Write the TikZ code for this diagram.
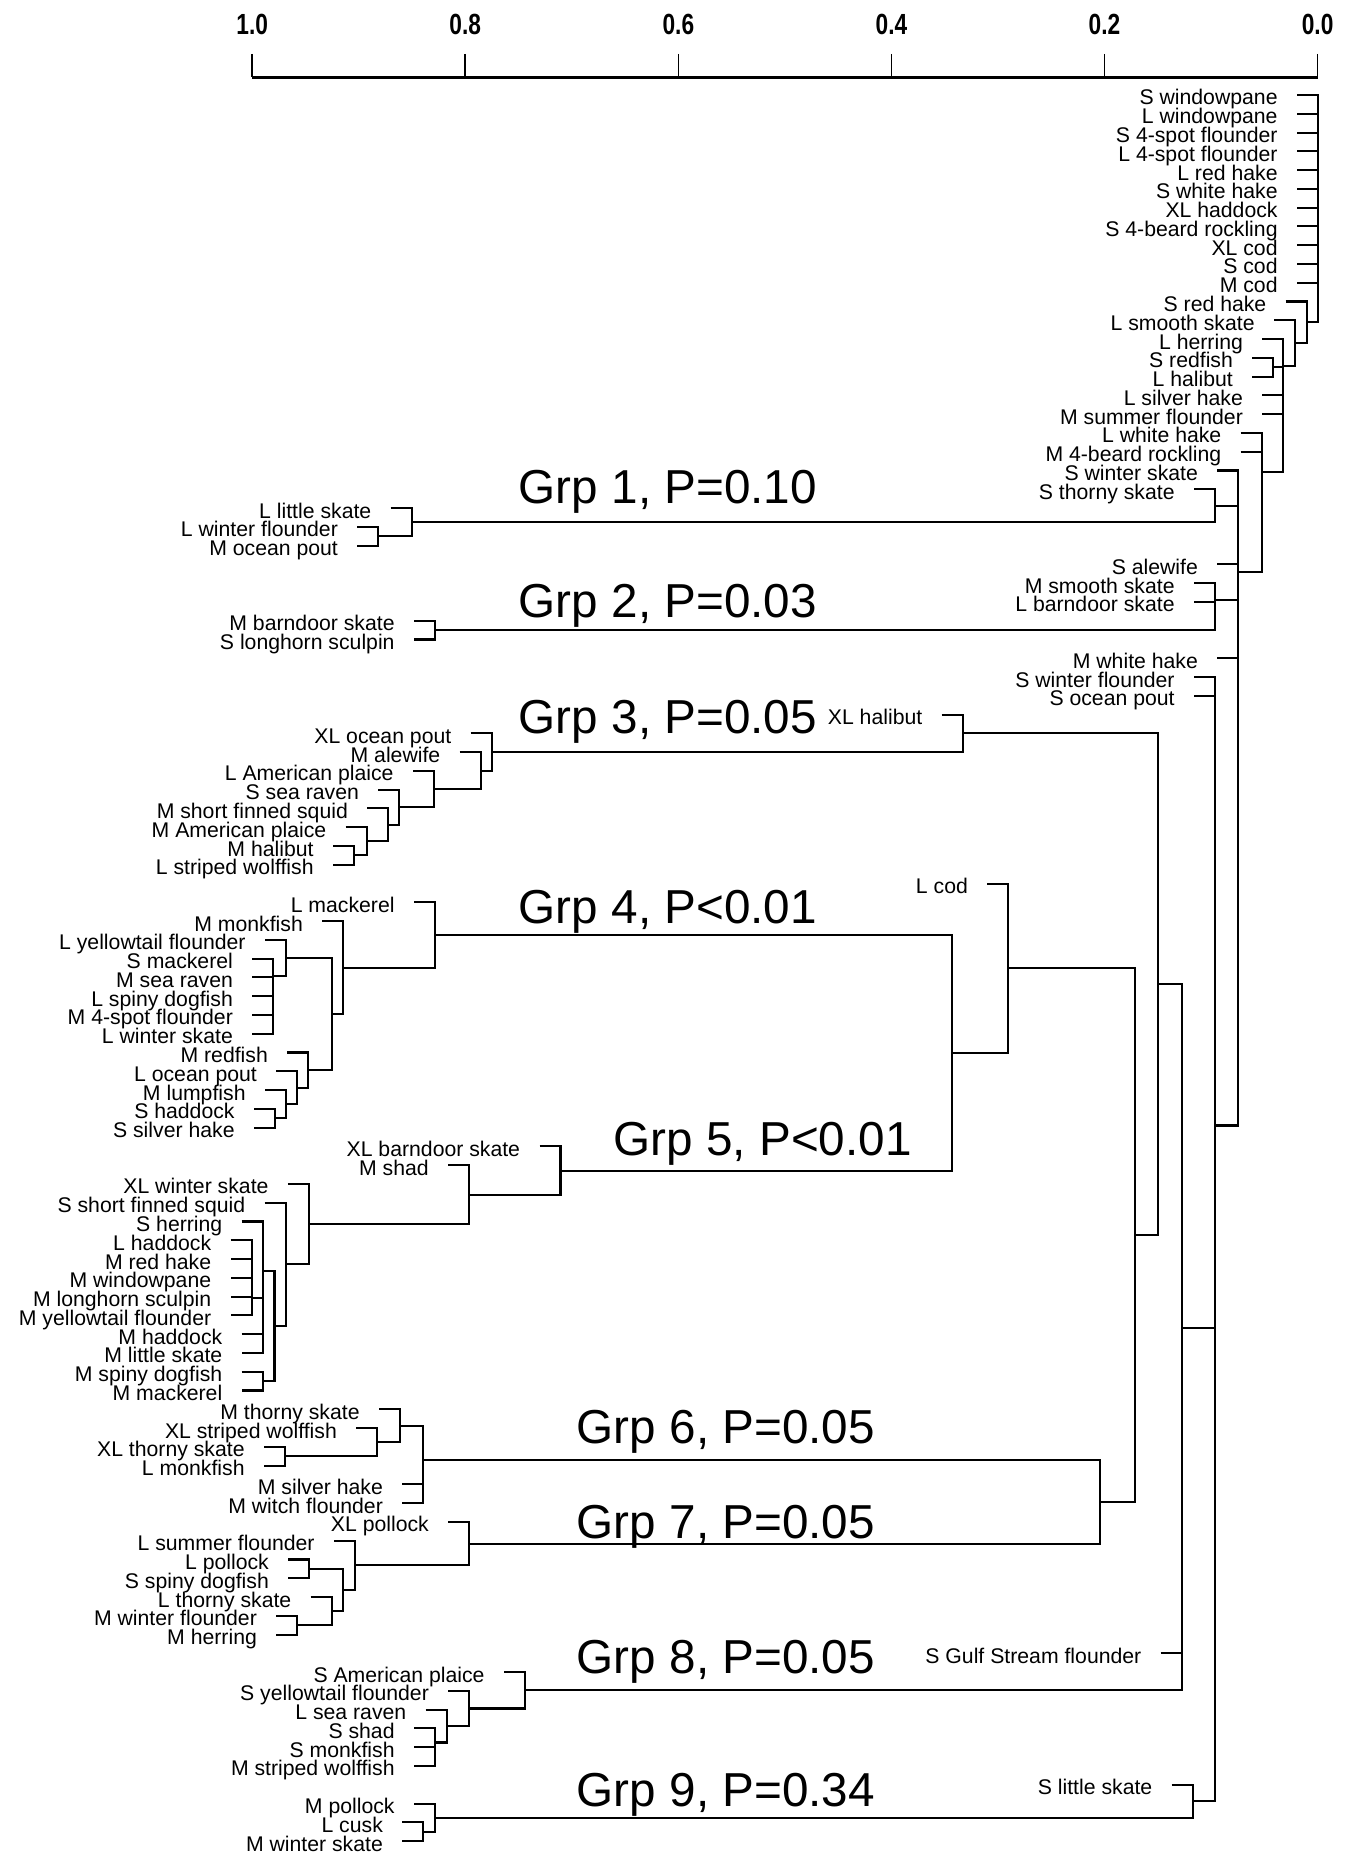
\documentclass[tikz,border=0pt]{standalone}
\usepackage{fontspec}
\setmainfont{Liberation Sans}
\usepackage{graphicx}
\usepackage{tikz}
\usetikzlibrary{calc}

\begin{document}
\begin{tikzpicture}[x=0.016894cm, y=-0.016894cm,
  br/.style={line width=1pt},
  axl/.style={line width=1.3pt},
  tk/.style={line width=0.8pt},
  leaflab/.style={anchor=base east, inner sep=0pt, font=\fontsize{10.2}{11}\selectfont},
  grplab/.style={anchor=base west, inner sep=0pt, font=\fontsize{22.9}{26}\selectfont},
  axlab/.style={anchor=base, inner sep=0pt, font=\fontsize{14}{16}\selectfont\bfseries}]
\useasboundingbox (0,0) rectangle (1346,1856);
% leaf: name, row, tick start, label
\def\lf#1#2#3#4{%
  \pgfmathsetmacro\yy{95+18.775*#2}
  \coordinate (#1) at (#3,\yy);
  \node[leaflab] (#1t) at (#3-19,\yy+10) {#4};}
% join: name, x, upper child, lower child
\def\jn#1#2#3#4{%
  \coordinate (#1m) at ($(#3)!.5!(#4)$);
  \coordinate (#1) at (#1m -| #2,0);
  \draw[br] (#3) -| (#1) |- (#4);}

% similarity axis
\coordinate (a0) at (252.2,77.5);
\coordinate (a1) at (1317.6,77.5);
\draw[axl] (a0) -- (a1);
\foreach \v [count=\k from 0] in {1.0,0.8,0.6,0.4,0.2,0.0}{
  \pgfmathsetmacro\xx{252.2+213.08*\k}
  \draw[tk] (\xx,54) -- (\xx,77.5);
  \node[axlab] (ax\k) at (\xx,35) {\scalebox{0.78}[1]{\v}};}

% leaves
\lf{l0}{0}{1297}{S windowpane}
\lf{l1}{1}{1297}{L windowpane}
\lf{l2}{2}{1297}{S 4-spot flounder}
\lf{l3}{3}{1297}{L 4-spot flounder}
\lf{l4}{4}{1297}{L red hake}
\lf{l5}{5}{1297}{S white hake}
\lf{l6}{6}{1297}{XL haddock}
\lf{l7}{7}{1297}{S 4-beard rockling}
\lf{l8}{8}{1297}{XL cod}
\lf{l9}{9}{1297}{S cod}
\lf{l10}{10}{1297}{M cod}
\lf{l11}{11}{1285.7}{S red hake}
\lf{l12}{12}{1274}{L smooth skate}
\lf{l13}{13}{1262.3}{L herring}
\lf{l14}{14}{1252.3}{S redfish}
\lf{l15}{15}{1252.3}{L halibut}
\lf{l16}{16}{1262.3}{L silver hake}
\lf{l17}{17}{1262.3}{M summer flounder}
\lf{l18}{18}{1240.7}{L white hake}
\lf{l19}{19}{1240.7}{M 4-beard rockling}
\lf{l20}{20}{1217.3}{S winter skate}
\lf{l21}{21}{1194}{S thorny skate}
\lf{l22}{22}{390.7}{L little skate}
\lf{l23}{23}{357.3}{L winter flounder}
\lf{l24}{24}{357.3}{M ocean pout}
\lf{l25}{25}{1217.3}{S alewife}
\lf{l26}{26}{1194}{M smooth skate}
\lf{l27}{27}{1194}{L barndoor skate}
\lf{l28}{28}{414}{M barndoor skate}
\lf{l29}{29}{414}{S longhorn sculpin}
\lf{l30}{30}{1217.3}{M white hake}
\lf{l31}{31}{1194}{S winter flounder}
\lf{l32}{32}{1194}{S ocean pout}
\lf{l33}{33}{941.7}{XL halibut}
\lf{l34}{34}{470.7}{XL ocean pout}
\lf{l35}{35}{459.7}{M alewife}
\lf{l36}{36}{413}{L American plaice}
\lf{l37}{37}{378.3}{S sea raven}
\lf{l38}{38}{367.3}{M short finned squid}
\lf{l39}{39}{345.7}{M American plaice}
\lf{l40}{40}{333}{M halibut}
\lf{l41}{41}{333}{L striped wolffish}
\lf{l42}{42}{987.3}{L cod}
\lf{l43}{43}{414}{L mackerel}
\lf{l44}{44}{322.3}{M monkfish}
\lf{l45}{45}{265}{L yellowtail flounder}
\lf{l46}{46}{252.3}{S mackerel}
\lf{l47}{47}{252.3}{M sea raven}
\lf{l48}{48}{252.3}{L spiny dogfish}
\lf{l49}{49}{252.3}{M 4-spot flounder}
\lf{l50}{50}{252.3}{L winter skate}
\lf{l51}{51}{287.3}{M redfish}
\lf{l52}{52}{276.3}{L ocean pout}
\lf{l53}{53}{265}{M lumpfish}
\lf{l54}{54}{254}{S haddock}
\lf{l55}{55}{254}{S silver hake}
\lf{l56}{56}{539.5}{XL barndoor skate}
\lf{l57}{57}{448.1}{M shad}
\lf{l58}{58}{287.9}{XL winter skate}
\lf{l59}{59}{264.6}{S short finned squid}
\lf{l60}{60}{241.7}{S herring}
\lf{l61}{61}{230.6}{L haddock}
\lf{l62}{62}{230.6}{M red hake}
\lf{l63}{63}{230.6}{M windowpane}
\lf{l64}{64}{230.6}{M longhorn sculpin}
\lf{l65}{65}{230.6}{M yellowtail flounder}
\lf{l66}{66}{241.7}{M haddock}
\lf{l67}{67}{241.7}{M little skate}
\lf{l68}{68}{241.7}{M spiny dogfish}
\lf{l69}{69}{241.7}{M mackerel}
\lf{l70}{70}{379}{M thorny skate}
\lf{l71}{71}{356.3}{XL striped wolffish}
\lf{l72}{72}{264}{XL thorny skate}
\lf{l73}{73}{264}{L monkfish}
\lf{l74}{74}{402.3}{M silver hake}
\lf{l75}{75}{402.3}{M witch flounder}
\lf{l76}{76}{448.3}{XL pollock}
\lf{l77}{77}{334}{L summer flounder}
\lf{l78}{78}{288.3}{L pollock}
\lf{l79}{79}{288.3}{S spiny dogfish}
\lf{l80}{80}{310.7}{L thorny skate}
\lf{l81}{81}{276.3}{M winter flounder}
\lf{l82}{82}{276.3}{M herring}
\lf{l83}{83}{1160.7}{S Gulf Stream flounder}
\lf{l84}{84}{504}{S American plaice}
\lf{l85}{85}{448.3}{S yellowtail flounder}
\lf{l86}{86}{425.7}{L sea raven}
\lf{l87}{87}{414}{S shad}
\lf{l88}{88}{414}{S monkfish}
\lf{l89}{89}{414}{M striped wolffish}
\lf{l90}{90}{1171.7}{S little skate}
\lf{l91}{91}{414}{M pollock}
\lf{l92}{92}{402.3}{L cusk}
\lf{l93}{93}{402.3}{M winter skate}

% group 1 and 2
\jn{g1a}{378.3}{l23}{l24}
\jn{g1}{411.7}{l22}{g1a}
\jn{g2}{435}{l28}{l29}
% group 3
\jn{g3a}{354}{l40}{l41}
\jn{g3b}{366.7}{l39}{g3a}
\jn{g3c}{388.3}{l38}{g3b}
\jn{g3d}{399.3}{l37}{g3c}
\jn{g3e}{434}{l36}{g3d}
\jn{g3f}{480.7}{l35}{g3e}
\jn{g3}{491.7}{l34}{g3f}
% group 4
\jn{g4a}{273.3}{l49}{l50}
\jn{g4b}{273.3}{l48}{g4a}
\jn{g4c}{273.3}{l47}{g4b}
\jn{g4d}{273.3}{l46}{g4c}
\jn{g4e}{286}{l45}{g4d}
\jn{g4f}{275}{l54}{l55}
\jn{g4g}{286}{l53}{g4f}
\jn{g4h}{297.3}{l52}{g4g}
\jn{g4i}{308.3}{l51}{g4h}
\jn{g4j}{331.7}{g4e}{g4i}
\jn{g4k}{343.3}{l44}{g4j}
\jn{g4}{435}{l43}{g4k}
% group 5
\jn{g5a}{251.6}{l61}{l62}
\jn{g5b}{251.6}{g5a}{l63}
\jn{g5c}{251.6}{g5b}{l64}
\jn{g5d}{251.6}{g5c}{l65}
\jn{g5e}{262.7}{l66}{l67}
\jn{g5f}{262.7}{g5d}{g5e}
\jn{g5g}{262.7}{l60}{g5f}
\jn{g5h}{262.7}{l68}{l69}
\jn{g5i}{274.5}{g5g}{g5h}
\jn{g5j}{285.6}{l59}{g5i}
\jn{g5k}{308.9}{l58}{g5j}
\jn{g5l}{469.1}{l57}{g5k}
\jn{g5}{560.5}{l56}{g5l}
% group 6
\jn{g6a}{285}{l72}{l73}
\jn{g6b}{377.3}{l71}{g6a}
\jn{g6c}{400}{l70}{g6b}
\jn{g6d}{423.3}{l74}{l75}
\jn{g6}{423.3}{g6c}{g6d}
% group 7
\jn{g7a}{309.3}{l78}{l79}
\jn{g7b}{297.3}{l81}{l82}
\jn{g7c}{331.7}{l80}{g7b}
\jn{g7d}{343.3}{g7a}{g7c}
\jn{g7e}{355}{l77}{g7d}
\jn{g7}{469.3}{l76}{g7e}
% group 8
\jn{g8a}{435}{l88}{l89}
\jn{g8b}{435}{l87}{g8a}
\jn{g8c}{446.7}{l86}{g8b}
\jn{g8d}{469.3}{l85}{g8c}
\jn{g8}{525}{l84}{g8d}
% group 9
\jn{g9a}{423.3}{l92}{l93}
\jn{g9}{435}{l91}{g9a}

% joins on the right
\jn{nls}{1192.7}{l90}{g9}
\jn{b1}{1181.7}{l83}{g8}
\jn{g45}{951.7}{g4}{g5}
\jn{cod}{1008.3}{l42}{g45}
\jn{g67}{1100}{g6}{g7}
\jn{lcg}{1135}{cod}{g67}
\jn{xlh}{962.7}{l33}{g3}
\jn{hal}{1158.3}{xlh}{lcg}
\jn{big}{1181.7}{hal}{b1}
\jn{sw1}{1215}{l31}{l32}
\jn{sw2}{1215}{big}{nls}
\jn{swf}{1215}{sw1}{sw2}
\jn{m1}{1215}{l27}{g2}
\jn{msk}{1215}{l26}{m1}
\jn{thorny}{1215}{l21}{g1}
\jn{s4}{1238.3}{l30}{swf}
\jn{s3}{1238.3}{msk}{s4}
\jn{s2}{1238.3}{l25}{s3}
\jn{s1}{1238.3}{l20}{thorny}
\jn{spine}{1238.3}{s1}{s2}
\jn{w1}{1261.7}{l19}{spine}
\jn{lwh}{1261.7}{l18}{w1}
\jn{h3}{1283.3}{l17}{lwh}
\jn{h2}{1283.3}{l16}{h3}
\jn{nsr}{1273.3}{l14}{l15}
\jn{h1}{1283.3}{nsr}{h2}
\jn{lh}{1283.3}{l13}{h1}
\jn{lss}{1295}{l12}{lh}
\jn{srh}{1306.7}{l11}{lss}
% root at 0.0
\jn{r10}{1318}{l10}{srh}
\jn{r9}{1318}{l9}{r10}
\jn{r8}{1318}{l8}{r9}
\jn{r7}{1318}{l7}{r8}
\jn{r6}{1318}{l6}{r7}
\jn{r5}{1318}{l5}{r6}
\jn{r4}{1318}{l4}{r5}
\jn{r3}{1318}{l3}{r4}
\jn{r2}{1318}{l2}{r3}
\jn{r1}{1318}{l1}{r2}
\jn{r0}{1318}{l0}{r1}

% group labels
\node[grplab] (t1) at (518.5,503) {Grp 1, P=0.10};
\node[grplab] (t2) at (518.5,617) {Grp 2, P=0.03};
\node[grplab] (t3) at (518.5,733) {Grp 3, P=0.05};
\node[grplab] (t4) at (518.5,923) {Grp 4, P<0.01};
\node[grplab] (t5) at (613.2,1155) {Grp 5, P<0.01};
\node[grplab] (t6) at (576.5,1443) {Grp 6, P=0.05};
\node[grplab] (t7) at (576.5,1538) {Grp 7, P=0.05};
\node[grplab] (t8) at (576.5,1673) {Grp 8, P=0.05};
\node[grplab] (t9) at (576.5,1806.6) {Grp 9, P=0.34};
\end{tikzpicture}
\end{document}
